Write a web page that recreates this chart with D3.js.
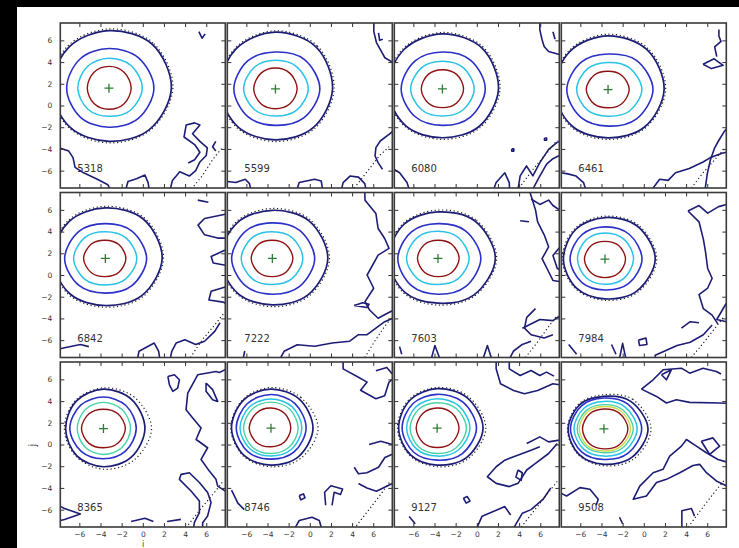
<!DOCTYPE html>
<html>
<head>
<meta charset="utf-8">
<script src="https://cdn.jsdelivr.net/npm/d3@7"></script>
<style>
  html, body { margin: 0; padding: 0; background: #000; }
  svg { display: block; }
</style>
</head>
<body>
<svg id="chart" width="739" height="548"></svg>
<script>
// Frame numbers shown in each panel (row by row)
const frames = ["5318", "5599", "6080", "6461", "6842", "7222", "7603", "7984", "8365", "8746", "9127", "9508"];

// Source centre (i, j) of each frame, marked with a cross
const centres = [
  [-3.2, 1.6], [-3.25, 1.53], [-3.25, 1.53], [-3.38, 1.47],
  [-3.54, 1.53], [-3.54, 1.53], [-3.67, 1.53], [-3.67, 1.47],
  [-3.72, 1.47], [-3.67, 1.5], [-3.75, 1.5], [-3.77, 1.44]
];

// Contour rings per frame: [level, radii at E, NE, N, NW, W, SW, S, SE] around the centre
const rings = [
  [[1, [5.9, 5.75, 5.3, 5.35, 5.4, 5.15, 4.9, 5.4]], [2, [4.25, 3.95, 3.65, 3.83, 4.0, 3.8, 3.6, 3.93]], [3, [3.15, 2.95, 2.75, 2.85, 2.95, 2.78, 2.6, 2.88]], [6, [2.1, 2.05, 2.0, 2.03, 2.05, 2.0, 1.95, 2.03]]],
  [[1, [5.4, 5.45, 5.23, 5.24, 5.25, 4.98, 4.7, 5.05]], [2, [4.2, 3.85, 3.4, 3.67, 3.93, 3.65, 3.36, 3.78]], [3, [3.1, 2.87, 2.63, 2.82, 3.0, 2.75, 2.5, 2.8]], [6, [2.05, 1.99, 1.93, 1.99, 2.05, 1.94, 1.83, 1.94]]],
  [[1, [5.3, 5.3, 5.07, 5.13, 5.2, 4.85, 4.5, 4.9]], [2, [4.05, 3.75, 3.4, 3.65, 3.9, 3.63, 3.36, 3.7]], [3, [3.0, 2.78, 2.55, 2.78, 3.0, 2.75, 2.5, 2.75]], [6, [2.0, 1.89, 1.77, 1.89, 2.0, 1.87, 1.73, 1.87]]],
  [[1, [5.3, 5.2, 4.95, 5.03, 5.1, 4.78, 4.45, 4.88]], [2, [4.25, 3.8, 3.27, 3.58, 3.9, 3.63, 3.37, 3.81]], [3, [3.2, 2.85, 2.5, 2.73, 2.97, 2.71, 2.45, 2.83]], [6, [2.0, 1.84, 1.68, 1.87, 2.06, 1.87, 1.68, 1.84]]],
  [[1, [5.37, 5.1, 4.65, 4.83, 5.0, 4.67, 4.34, 4.86]], [2, [3.9, 3.55, 3.2, 3.53, 3.85, 3.53, 3.2, 3.55]], [3, [2.97, 2.71, 2.45, 2.73, 3.0, 2.73, 2.45, 2.71]], [6, [1.94, 1.8, 1.67, 1.87, 2.06, 1.87, 1.68, 1.81]]],
  [[1, [5.24, 4.9, 4.43, 4.67, 4.9, 4.59, 4.28, 4.76]], [2, [4.0, 3.65, 3.27, 3.56, 3.85, 3.58, 3.3, 3.65]], [3, [2.88, 2.67, 2.45, 2.7, 2.94, 2.67, 2.4, 2.64]], [6, [1.94, 1.8, 1.67, 1.84, 2.0, 1.84, 1.68, 1.81]]],
  [[1, [5.42, 4.9, 4.28, 4.49, 4.7, 4.42, 4.13, 4.78]], [2, [4.05, 3.63, 3.2, 3.5, 3.8, 3.55, 3.3, 3.68]], [3, [2.94, 2.72, 2.5, 2.74, 2.97, 2.69, 2.4, 2.67]], [6, [2.0, 1.84, 1.67, 1.8, 1.94, 1.81, 1.68, 1.84]]],
  [[1, [4.75, 4.3, 3.82, 3.88, 3.93, 3.8, 3.67, 4.21]], [2, [3.5, 3.23, 2.96, 3.13, 3.3, 3.08, 2.85, 3.18]], [3, [2.7, 2.56, 2.41, 2.51, 2.6, 2.47, 2.33, 2.52]], [6, [1.94, 1.79, 1.63, 1.79, 1.94, 1.83, 1.71, 1.83]]],
  [[1, [3.92, 3.78, 3.63, 3.6, 3.58, 3.55, 3.52, 3.72]], [2, [3.1, 3.0, 2.9, 3.04, 3.18, 2.98, 2.78, 2.94]], [4, [2.56, 2.49, 2.41, 2.45, 2.48, 2.44, 2.39, 2.48]], [6, [2.07, 1.93, 1.78, 1.93, 2.08, 1.93, 1.77, 1.92]]],
  [[1, [3.97, 3.79, 3.6, 3.67, 3.73, 3.57, 3.4, 3.69]], [2, [3.32, 3.21, 3.1, 3.19, 3.28, 3.07, 2.85, 3.09]], [3, [2.92, 2.81, 2.7, 2.82, 2.93, 2.74, 2.55, 2.74]], [4, [2.57, 2.49, 2.4, 2.5, 2.6, 2.47, 2.33, 2.45]], [6, [1.87, 1.87, 1.86, 1.96, 2.06, 1.89, 1.71, 1.79]]],
  [[1, [4.34, 3.99, 3.64, 3.64, 3.64, 3.52, 3.4, 3.87]], [2, [3.72, 3.42, 3.12, 3.22, 3.31, 3.13, 2.94, 3.33]], [3, [3.1, 2.91, 2.72, 2.81, 2.89, 2.73, 2.57, 2.84]], [4, [2.77, 2.56, 2.35, 2.46, 2.56, 2.45, 2.33, 2.55]], [6, [2.07, 1.97, 1.86, 1.92, 1.98, 1.88, 1.78, 1.93]]],
  [[1, [4.17, 3.58, 2.99, 3.19, 3.38, 3.33, 3.27, 3.72]], [2, [3.57, 3.21, 2.84, 3.0, 3.16, 2.99, 2.82, 3.2]], [3, [3.14, 2.84, 2.53, 2.68, 2.83, 2.67, 2.51, 2.83]], [4, [2.77, 2.5, 2.23, 2.38, 2.53, 2.37, 2.2, 2.49]], [5, [2.52, 2.29, 2.06, 2.2, 2.33, 2.19, 2.04, 2.28]], [6, [2.27, 2.05, 1.83, 1.93, 2.03, 1.94, 1.84, 2.06]]]
];

// Model contour (dotted) around each source: radii at E, NE, N, NW, W, SW, S, SE
const modelRings = [
  [6.05, 5.9, 5.45, 5.5, 5.55, 5.25, 5.05, 5.5],
  [5.55, 5.6, 5.35, 5.35, 5.35, 5.1, 4.85, 5.2],
  [5.45, 5.45, 5.2, 5.25, 5.3, 4.95, 4.65, 5.05],
  [5.45, 5.35, 5.1, 5.15, 5.2, 4.9, 4.6, 5.0],
  [5.5, 5.25, 4.8, 4.95, 5.1, 4.8, 4.5, 5.0],
  [5.4, 5.05, 4.6, 4.8, 5.0, 4.7, 4.45, 4.9],
  [5.55, 5.05, 4.45, 4.6, 4.8, 4.55, 4.3, 4.9],
  [4.9, 4.45, 3.95, 4.0, 4.05, 3.9, 3.8, 4.35],
  [4.55, 4.1, 3.75, 3.7, 3.7, 3.65, 3.75, 4.1],
  [4.45, 4.0, 3.75, 3.75, 3.8, 3.65, 3.55, 3.95],
  [4.6, 4.15, 3.75, 3.75, 3.75, 3.6, 3.55, 4.05],
  [4.45, 3.85, 3.15, 3.3, 3.45, 3.4, 3.4, 3.95]
];

// Model contour (dotted) entering the lower-right corner of each frame
const modelEdges = [
  [[4.6, -7.7], [5.6, -6.5], [6.6, -5.0], [7.5, -3.9]],
  [[4.2, -7.6], [5.5, -6.0], [6.6, -4.6], [7.5, -3.8]],
  [[4.0, -7.6], [5.3, -5.9], [6.6, -4.4], [7.6, -3.2]],
  [[4.5, -7.6], [5.6, -6.2], [6.7, -5.0], [7.6, -4.0]],
  [[4.5, -7.6], [5.6, -6.0], [6.8, -4.6], [7.6, -3.6]],
  [[5.2, -7.6], [6.2, -6.0], [7.1, -4.7], [7.7, -4.0]],
  [[4.6, -7.6], [5.8, -6.1], [6.9, -4.6], [7.6, -3.7]],
  [[4.5, -7.6], [5.6, -6.3], [6.9, -4.7], [7.6, -3.8]],
  [[4.3, -7.4], [5.5, -5.9], [6.7, -4.5], [7.5, -3.5]],
  [[4.4, -7.5], [5.6, -6.0], [6.7, -4.6], [7.6, -3.4]],
  [[4.2, -7.6], [5.5, -6.0], [6.8, -4.4], [7.6, -3.4]],
  [[4.2, -7.6], [5.5, -5.9], [6.6, -4.5], [7.6, -3.3]]
];

// Lowest-level background contours (noise) in each frame
const noise = [
  [
    [[-7.9, -3.9], [-7.0, -4.2], [-6.6, -4.8], [-6.4, -5.7], [-5.6, -6.2], [-4.3, -6.8], [-3.3, -7.3], [-3.1, -7.7]],
    [[-1.6, -7.7], [-1.4, -7.0], [-0.6, -6.75], [0.2, -6.4], [0.5, -7.1], [0.6, -7.7]],
    [[2.6, -7.7], [2.8, -6.9], [3.5, -6.1], [4.4, -6.5], [5.0, -6.0], [5.4, -5.2], [6.0, -4.6], [6.1, -3.9], [5.4, -3.3], [4.7, -2.6], [5.4, -1.8], [4.9, -1.6], [4.1, -1.8], [3.9, -2.9], [4.9, -3.6], [5.4, -4.3], [4.9, -5.0], [4.3, -5.3]],
    [[6.9, -3.3], [6.6, -3.8], [6.9, -4.2]],
    [[5.3, 6.8], [5.6, 6.2], [5.9, 6.6]]
  ],
  [
    [[6.05, 7.7], [6.05, 6.8], [6.3, 5.8], [6.7, 5.1], [7.1, 4.4], [7.8, 4.0]],
    [[6.5, 6.7], [6.6, 6.0], [6.9, 6.1]],
    [[7.8, -2.4], [7.49, -2.66], [6.66, -3.27], [6.25, -3.88], [6.17, -4.65], [6.46, -5.26], [6.87, -5.87]],
    [[-7.8, -7.0], [-7.0, -7.1], [-6.1, -6.8], [-5.7, -7.2], [-5.6, -7.7]],
    [[-1.2, -7.7], [-1.0, -7.1], [0.46, -6.8], [1.08, -6.95], [1.2, -7.7]],
    [[3.0, -7.7], [3.15, -7.1], [3.8, -6.5], [4.6, -6.6], [5.2, -7.2], [5.3, -7.7]]
  ],
  [
    [[5.96, 7.7], [5.96, 6.97], [6.17, 6.06], [6.37, 5.44], [6.79, 4.98], [7.8, 4.7]],
    [[7.2, 6.8], [7.4, 6.1]],
    [[3.9, -7.7], [4.1, -6.48], [4.7, -5.57], [5.3, -6.48], [5.96, -5.26], [6.79, -4.04], [7.6, -3.4], [7.8, -3.3]],
    [[5.3, -7.7], [5.9, -6.6], [6.6, -5.4], [7.2, -4.9], [7.8, -4.6]],
    [[1.6, -7.7], [1.83, -7.1], [2.65, -6.2], [3.07, -7.1], [3.1, -7.7]],
    [[-7.8, -5.9], [-7.3, -6.2], [-6.6, -7.1], [-6.4, -7.7]],
    [[3.3, -4.0], [3.5, -4.0], [3.5, -4.2], [3.3, -4.2], [3.3, -4.0]],
    [[6.4, -3.0], [6.6, -3.0], [6.6, -3.2], [6.4, -3.2], [6.4, -3.0]]
  ],
  [
    [[7.1, 7.0], [7.1, 6.4], [7.3, 5.9], [6.7, 5.4], [6.9, 4.5]],
    [[5.6, 3.8], [6.65, 4.3], [7.5, 3.7], [6.4, 3.4], [5.6, 3.8]],
    [[0.8, -7.7], [1.5, -6.8], [2.3, -6.9], [3.0, -6.2], [4.3, -5.8], [5.6, -5.2], [6.3, -4.8], [7.4, -4.4], [7.8, -4.3]],
    [[5.8, -7.7], [6.0, -6.3], [6.3, -5.0], [6.7, -3.9], [7.1, -3.2], [7.6, -2.4], [7.8, -2.2]],
    [[-7.8, -6.2], [-7.2, -6.3], [-6.4, -6.5], [-5.7, -7.1], [-5.5, -7.7]]
  ],
  [
    [[5.2, 6.9], [6.2, 6.7]],
    [[7.8, 5.6], [5.84, 5.2], [5.22, 4.6], [5.84, 3.7], [7.08, 3.4], [7.8, 3.4]],
    [[7.8, 2.3], [6.46, 1.7], [6.66, 1.1], [7.8, 0.9]],
    [[7.8, -1.1], [6.46, -1.5], [6.25, -2.3], [7.6, -2.5], [7.8, -2.6]],
    [[2.6, -7.7], [2.74, -7.03], [3.15, -6.27], [3.98, -5.96], [5.0, -6.4], [5.84, -6.1], [6.8, -5.2], [7.3, -4.4]],
    [[-0.5, -7.7], [-0.36, -7.03], [1.08, -6.27], [1.5, -7.03], [1.6, -7.7]],
    [[-7.8, -6.8], [-7.4, -6.7], [-5.9, -6.4], [-5.1, -6.6]]
  ],
  [
    [[5.2, 7.7], [5.22, 6.88], [6.25, 5.66], [6.46, 4.28], [7.08, 3.36], [7.49, 2.45], [6.46, 1.83], [5.42, 0.0], [6.04, -1.22], [5.22, -2.45], [5.63, -3.2], [6.46, -3.98], [7.2, -3.6], [7.8, -3.3]],
    [[4.2, -2.8], [5.0, -2.55], [5.6, -2.7], [5.4, -3.0], [4.2, -2.8]],
    [[-2.8, -7.7], [-2.43, -7.03], [-1.19, -6.42], [0.46, -6.57], [2.12, -6.27], [3.77, -6.1], [4.6, -5.5], [5.42, -5.5], [6.25, -4.9], [7.08, -4.3], [7.8, -4.0]],
    [[-6.3, -7.7], [-6.15, -7.0]]
  ],
  [
    [[5.0, 7.7], [5.55, 6.0], [5.75, 4.9], [6.37, 3.7], [6.79, 2.6], [6.17, 1.5], [6.79, 0.3], [7.2, -0.5], [7.8, -0.6]],
    [[5.13, 7.0], [5.96, 6.5], [6.79, 6.9], [7.2, 6.4], [7.8, 6.0]],
    [[4.1, 5.0], [4.93, 4.9]],
    [[7.8, 2.5], [7.2, 1.8], [7.61, 0.6], [7.8, 0.5]],
    [[5.55, -3.1], [4.72, -3.9], [4.51, -4.9], [5.13, -5.5], [6.37, -5.8], [7.2, -5.5]],
    [[4.31, -4.9], [5.96, -4.1], [7.2, -4.2], [7.8, -3.8]],
    [[-4.3, -7.7], [-3.96, -6.5], [-3.5, -7.7]],
    [[0.6, -7.7], [1.0, -6.5], [1.4, -7.7]],
    [[3.1, -7.7], [3.48, -7.0], [4.3, -6.4], [5.13, -6.1]],
    [[-7.3, -6.6], [-7.1, -7.3]]
  ],
  [
    [[4.18, 5.9], [5.22, 6.4], [6.04, 5.7], [7.08, 6.3], [7.8, 6.5]],
    [[4.18, 5.9], [5.22, 4.9], [5.63, 3.3], [5.84, 2.1], [6.04, 0.6], [6.46, -0.3], [6.04, -1.2], [5.22, -1.8], [5.63, -3.1], [6.46, -3.7], [7.0, -4.5]],
    [[7.8, -2.6], [6.9, -4.1], [7.8, -4.3]],
    [[-7.1, -6.4], [-6.35, -7.3]],
    [[-3.05, -6.4], [-2.63, -7.3]],
    [[-2.3, -7.7], [-2.0, -6.3], [-1.7, -7.7]],
    [[-0.5, -6.0], [0.2, -5.8], [0.3, -6.4], [-0.4, -6.5], [-0.5, -6.0]],
    [[1.08, -7.7], [1.08, -7.4], [3.15, -6.5], [4.39, -6.2], [5.63, -5.5], [6.46, -4.6]],
    [[3.56, -4.9], [4.39, -4.3], [5.22, -4.4]]
  ],
  [
    [[2.37, 6.27], [2.99, 6.42], [3.46, 5.96], [3.3, 5.2], [2.84, 4.89], [2.52, 5.5], [2.37, 6.27]],
    [[7.8, 6.9], [7.24, 6.63], [6.92, 6.72], [5.19, 6.42], [4.25, 4.74], [4.09, 3.21], [4.72, 2.45], [5.51, 1.53], [5.04, 0.46], [6.13, -0.3], [5.51, -1.38], [6.29, -2.45], [6.92, -3.21], [7.08, -3.83], [7.8, -4.3]],
    [[5.98, 5.66], [6.6, 5.05], [7.08, 3.97], [6.6, 4.13], [5.98, 4.9], [5.98, 5.66]],
    [[5.66, -7.7], [5.66, -7.2], [6.13, -6.58], [6.45, -5.35], [6.13, -4.43], [5.35, -3.5], [4.4, -2.6], [3.62, -2.75], [3.46, -3.21], [4.56, -4.28], [5.35, -5.2], [5.35, -6.27], [4.88, -7.18], [4.8, -7.7]],
    [[-7.8, -5.7], [-7.4, -5.9], [-5.9, -6.4], [-7.4, -6.9], [-7.8, -7.0]],
    [[-1.1, -7.1], [0.2, -6.8], [1.0, -7.1]],
    [[2.3, -7.1], [3.6, -6.9]]
  ],
  [
    [[3.15, 7.7], [3.15, 6.97], [4.6, 6.2], [5.42, 5.75], [4.8, 5.0], [6.25, 4.22], [7.08, 4.5], [7.49, 5.75], [7.8, 6.0]],
    [[6.25, 6.8], [7.28, 7.1], [7.8, 6.5]],
    [[5.6, 0.0], [6.7, 0.3], [7.8, 0.0]],
    [[4.2, -2.1], [4.6, -2.7], [5.4, -2.6], [6.5, -2.1], [7.1, -1.2], [7.8, -0.9]],
    [[1.5, -5.6], [1.4, -4.4], [2.0, -3.8], [3.1, -4.1], [2.9, -4.6], [2.3, -4.4], [2.1, -5.6]],
    [[-1.0, -4.7], [-0.6, -4.55], [-0.45, -4.9], [-0.85, -5.1], [-1.0, -4.7]],
    [[4.6, -3.6], [5.4, -4.0], [6.3, -4.3], [7.8, -3.6]],
    [[-7.4, -4.2], [-6.8, -5.4], [-6.2, -6.0]],
    [[-1.4, -7.7], [-1.0, -7.0], [0.2, -6.7], [0.9, -7.0], [1.1, -7.7]]
  ],
  [
    [[1.83, 7.7], [1.83, 6.97], [2.24, 5.6], [3.48, 4.98], [4.51, 4.68], [5.75, 4.98], [7.2, 5.6], [7.8, 5.5]],
    [[3.07, 7.7], [3.07, 6.97], [4.1, 6.36], [5.13, 6.82], [5.96, 6.36], [6.58, 6.67], [7.3, 6.3]],
    [[4.72, 0.09], [5.96, 0.7], [6.79, 0.24], [7.8, 0.4]],
    [[5.96, -0.2], [5.13, -0.52], [4.31, -0.83], [3.48, -1.13], [2.65, -1.44], [1.83, -2.05], [1.0, -2.97], [1.83, -3.58], [3.07, -3.88], [3.9, -3.58], [4.72, -2.35], [5.55, -1.74], [6.79, -0.83], [7.61, 0.09]],
    [[3.9, -2.35], [4.3, -2.6], [4.2, -3.3], [3.7, -3.0], [3.9, -2.35]],
    [[-1.27, -4.95], [-0.9, -4.8], [-0.65, -5.2], [-1.0, -5.4], [-1.27, -4.95]],
    [[-6.4, -6.64], [-5.82, -7.3]],
    [[0.0, -7.7], [0.5, -6.6], [1.5, -6.2], [2.65, -5.72], [3.2, -6.5]],
    [[3.48, -7.7], [4.31, -6.33], [5.13, -6.0], [6.3, -5.0], [7.0, -4.0]]
  ],
  [
    [[-0.22, 5.1], [0.88, 5.96], [1.82, 6.88], [3.56, 7.03], [4.34, 6.57], [5.6, 7.03], [6.86, 6.72], [7.3, 6.5]],
    [[-0.22, 5.1], [1.2, 4.43], [2.14, 3.82], [3.08, 4.13], [4.34, 3.88], [7.17, 3.82], [7.8, 3.8]],
    [[1.67, 6.42], [2.6, 6.88], [2.14, 5.96], [1.67, 6.42]],
    [[7.8, -1.6], [7.01, -1.38], [5.92, -0.76], [4.97, -0.15], [4.03, 0.46], [3.56, -0.15], [2.45, -1.07], [1.82, -2.29], [0.88, -2.6], [-0.38, -3.83], [-1.0, -5.05], [0.25, -4.74], [1.2, -3.51], [2.14, -3.21], [3.4, -2.6], [4.65, -1.93], [5.28, -1.83], [5.92, -2.6], [6.86, -3.36], [7.8, -3.8]],
    [[5.44, 0.3], [6.54, 0.61], [7.17, -0.15], [6.23, -0.92], [5.44, 0.3]],
    [[-7.8, -4.5], [-7.3, -4.74], [-6.04, -3.97], [-5.09, -4.13], [-4.31, -5.05], [-4.5, -5.6]],
    [[-2.3, -6.7], [-2.0, -7.3]],
    [[3.6, -7.7], [3.6, -6.1], [4.5, -5.9], [4.8, -6.6]]
  ]
];

// Tick positions shared by both axes
const tickValues = [-6, -4, -2, 0, 2, 4, 6];

// ---- layout ----
const W = 165, H = 165;
const colX = [60.3, 227.3, 394.3, 561.3];
const rowY = [23, 192.5, 362];

const svg = d3.select("#chart");
svg.append("rect").attr("x", 17).attr("y", 7).attr("width", 722).attr("height", 541).attr("fill", "#fff");

const x = d3.scaleLinear().domain([-7.8, 7.8]).range([0, W]);
const y = d3.scaleLinear().domain([-7.6, 7.6]).range([H, 0]);

// contour level -> line colour (jet-like)
const colour = d3.scaleOrdinal()
  .domain([1, 2, 3, 4, 5, 6])
  .range(["#1d1d76", "#2b30c6", "#2ac2e6", "#46d3a6", "#cfd64a", "#8f1111"]);
const width = d3.scaleOrdinal().domain([1, 2, 3, 4, 5, 6]).range([1.7, 1.6, 1.5, 1.4, 1.4, 1.4]);

const dirs = d3.range(8).map(i => i * Math.PI / 4);
const ringLine = d3.line().curve(d3.curveCatmullRomClosed.alpha(0.5));
function ringPath(c, r) {
  return ringLine(r.map((d, i) => [x(c[0] + d * Math.cos(dirs[i])), y(c[1] + d * Math.sin(dirs[i]))]));
}
const poly = d3.line().x(d => x(d[0])).y(d => y(d[1]));
const fmt = d => d < 0 ? "\u2212" + Math.abs(d) : String(d);
const font = "DejaVu Sans, sans-serif";

frames.forEach((label, k) => {
  const col = k % 4, row = Math.floor(k / 4);
  const g = svg.append("g").attr("transform", `translate(${colX[col]},${rowY[row]})`);

  g.append("clipPath").attr("id", "clip" + k)
    .append("rect").attr("width", W).attr("height", H);
  const plot = g.append("g").attr("clip-path", `url(#clip${k})`);

  // background contours
  plot.selectAll("path.noise").data(noise[k]).join("path")
    .attr("class", "noise")
    .attr("d", poly)
    .attr("fill", "none")
    .attr("stroke", colour(1))
    .attr("stroke-width", 1.6)
    .attr("stroke-linejoin", "round");

  // model contours, dotted
  plot.append("path")
    .attr("d", ringPath(centres[k], modelRings[k]))
    .attr("fill", "none").attr("stroke", "#222").attr("stroke-width", 1.2)
    .attr("stroke-dasharray", "1.2,2.6");
  plot.append("path")
    .attr("d", poly(modelEdges[k]))
    .attr("fill", "none").attr("stroke", "#222").attr("stroke-width", 1.2)
    .attr("stroke-dasharray", "1.2,2.6");

  // source contours
  plot.selectAll("path.ring").data(rings[k]).join("path")
    .attr("class", "ring")
    .attr("d", d => ringPath(centres[k], d[1]))
    .attr("fill", "none")
    .attr("stroke", d => colour(d[0]))
    .attr("stroke-width", d => width(d[0]))
    .attr("stroke-linejoin", "round");

  // centre marker
  const cx = x(centres[k][0]), cy = y(centres[k][1]);
  g.append("path")
    .attr("d", `M${cx - 4.5},${cy}H${cx + 4.5}M${cx},${cy - 4.5}V${cy + 4.5}`)
    .attr("stroke", "#2f7d34").attr("stroke-width", 1.3);

  // frame number
  g.append("text")
    .attr("x", 17).attr("y", H - 16)
    .attr("font-family", font).attr("font-size", 10).attr("fill", "#333")
    .text(label);

  // axes: inward ticks on all four sides
  const styleAxis = a => {
    a.select(".domain").remove();
    a.selectAll(".tick line").attr("stroke", "#333").attr("stroke-width", 1);
    a.selectAll(".tick text").attr("font-family", font).attr("font-size", 7.5).attr("fill", "#333");
  };
  g.append("g").call(d3.axisLeft(y).tickValues(tickValues).tickSize(-4).tickPadding(8)
      .tickFormat(col === 0 ? fmt : () => "")).call(styleAxis);
  g.append("g").attr("transform", `translate(${W},0)`)
    .call(d3.axisRight(y).tickValues(tickValues).tickSize(-4).tickFormat(() => "")).call(styleAxis);
  g.append("g").call(d3.axisTop(x).tickValues(tickValues).tickSize(-4).tickFormat(() => "")).call(styleAxis);
  g.append("g").attr("transform", `translate(0,${H})`)
    .call(d3.axisBottom(x).tickValues(tickValues).tickSize(-4).tickPadding(5)
      .tickFormat(row === 2 ? fmt : () => "")).call(styleAxis);

  g.append("rect").attr("width", W).attr("height", H)
    .attr("fill", "none").attr("stroke", "#3a3a3a").attr("stroke-width", 1.6);
});

// axis titles
svg.append("text")
  .attr("transform", "translate(36,445) rotate(-90)")
  .attr("text-anchor", "middle")
  .attr("font-family", font).attr("font-size", 10).attr("fill", "#333")
  .text("j");
svg.append("text")
  .attr("x", 143).attr("y", 546.5)
  .attr("text-anchor", "middle")
  .attr("font-family", font).attr("font-size", 8)
  .attr("fill", "#333")
  .text("i");
</script>
</body>
</html>
